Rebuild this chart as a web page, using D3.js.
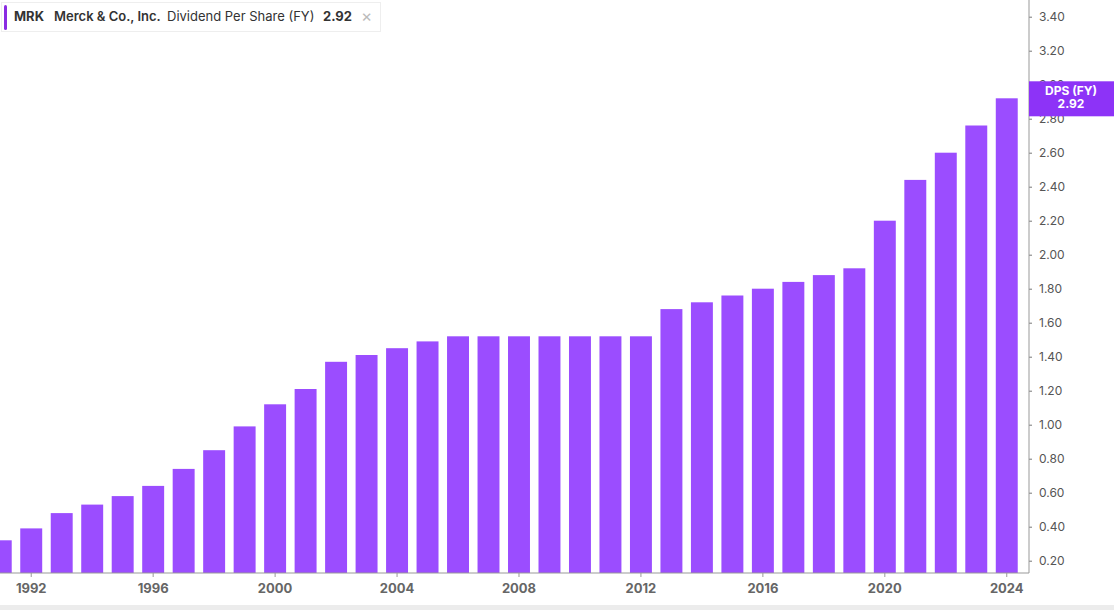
<!DOCTYPE html>
<html>
<head>
<meta charset="utf-8">
<script src="https://cdn.jsdelivr.net/npm/d3@7"></script>
<style>
  body { margin: 0; background: #fff; font-family: Inter, "Open Sans", sans-serif; }
  svg { display: block; }
</style>
</head>
<body>
<script>
// Merck dividend per share chart

const years = [1991, 1992, 1993, 1994, 1995, 1996, 1997, 1998, 1999, 2000,
               2001, 2002, 2003, 2004, 2005, 2006, 2007, 2008, 2009, 2010,
               2011, 2012, 2013, 2014, 2015, 2016, 2017, 2018, 2019, 2020,
               2021, 2022, 2023, 2024];
const dps = [0.32, 0.39, 0.48, 0.53, 0.58, 0.64, 0.74, 0.85, 0.99, 1.12,
             1.21, 1.37, 1.41, 1.45, 1.49, 1.52, 1.52, 1.52, 1.52, 1.52,
             1.52, 1.52, 1.68, 1.72, 1.76, 1.80, 1.84, 1.88, 1.92, 2.20,
             2.44, 2.60, 2.76, 2.92];
const yTicks = [0.2, 0.4, 0.6, 0.8, 1.0, 1.2, 1.4, 1.6, 1.8, 2.0, 2.2, 2.4,
                2.6, 2.8, 3.0, 3.2, 3.4];
const xLabelYears = [1992, 1996, 2000, 2004, 2008, 2012, 2016, 2020, 2024];

const outerWidth = 1114;
const outerHeight = 610;
const axisX = 1029;
const axisY = 573;
const barColor = "#9b4dff";
const tagColor = "#8d33f7";

const svg = d3.select("body").append("svg")
    .attr("width", outerWidth)
    .attr("height", outerHeight);

// footer strip
svg.append("rect")
    .attr("x", 0).attr("y", 605)
    .attr("width", outerWidth).attr("height", 5)
    .attr("fill", "#ececec");

const x = d3.scaleBand()
    .domain(years)
    .range([-14.5, 1022])
    .paddingInner(0.28)
    .paddingOuter(0.14);

const y = d3.scaleLinear()
    .domain([0, 3.4])
    .range([594.7, 16.7]);

const plot = svg.append("g");
plot.append("clipPath").attr("id", "plot-clip")
    .append("rect")
    .attr("x", 0).attr("y", 0)
    .attr("width", axisX).attr("height", axisY);

plot.append("g")
    .attr("clip-path", "url(#plot-clip)")
    .selectAll(".bar")
    .data(years)
    .join("rect")
    .attr("class", "bar")
    .attr("x", d => x(d))
    .attr("width", x.bandwidth())
    .attr("y", (d, i) => y(dps[i]))
    .attr("height", (d, i) => axisY - y(dps[i]))
    .attr("fill", barColor);

// right axis
const yAxis = d3.axisRight(y)
    .tickValues(yTicks)
    .tickSize(3)
    .tickPadding(7)
    .tickFormat(d3.format(".2f"));

const yAxisG = svg.append("g")
    .attr("transform", "translate(" + axisX + ",0)")
    .call(yAxis);
yAxisG.select(".domain").remove();
yAxisG.selectAll("line").attr("stroke", "#777");
yAxisG.selectAll("text")
    .attr("fill", "#555")
    .style("font-size", "12px")
    .style("font-family", "Inter, sans-serif");

svg.append("line")
    .attr("x1", axisX).attr("x2", axisX)
    .attr("y1", 0).attr("y2", axisY)
    .attr("stroke", "#999");

// bottom axis
const xAxis = d3.axisBottom(x)
    .tickValues(xLabelYears)
    .tickSize(4)
    .tickPadding(7);

const xAxisG = svg.append("g")
    .attr("transform", "translate(0," + axisY + ")")
    .call(xAxis);
xAxisG.select(".domain").remove();
xAxisG.selectAll("line").attr("stroke", "#999");
xAxisG.selectAll("text")
    .attr("fill", "#666")
    .style("font-size", "13px")
    .style("font-weight", "700")
    .style("font-family", "Inter, sans-serif");

svg.append("line")
    .attr("x1", 0).attr("x2", axisX)
    .attr("y1", axisY).attr("y2", axisY)
    .attr("stroke", "#999");

// last value tag
const last = dps[dps.length - 1];
const tag = svg.append("g");
tag.append("rect")
    .attr("x", axisX).attr("y", y(last) - 17)
    .attr("width", outerWidth - axisX).attr("height", 35)
    .attr("fill", tagColor);
tag.append("text")
    .attr("x", 1071).attr("y", y(last) - 3)
    .attr("text-anchor", "middle")
    .attr("fill", "#fff")
    .style("font-size", "12px").style("font-weight", "700")
    .text("DPS (FY)");
tag.append("text")
    .attr("x", 1071).attr("y", y(last) + 10)
    .attr("text-anchor", "middle")
    .attr("fill", "#fff")
    .style("font-size", "12px").style("font-weight", "700")
    .text(last.toFixed(2));

// legend box
const legend = svg.append("g");
legend.append("rect")
    .attr("x", 1.5).attr("y", 2.5)
    .attr("width", 379).attr("height", 29)
    .attr("fill", "#fff")
    .attr("stroke", "#eee");
legend.append("rect")
    .attr("x", 4).attr("y", 5)
    .attr("width", 3).attr("height", 25)
    .attr("rx", 1.5)
    .attr("fill", "#8a2be2");

const legendItems = [
  {text: "MRK", x: 14, weight: 700, color: "#333"},
  {text: "Merck & Co., Inc.", x: 54, weight: 600, color: "#333"},
  {text: "Dividend Per Share (FY)", x: 167, weight: 400, color: "#333"},
  {text: "2.92", x: 323, weight: 700, color: "#333"}
];
legend.selectAll(".leg-text")
    .data(legendItems)
    .join("text")
    .attr("class", "leg-text")
    .attr("x", d => d.x).attr("y", 21)
    .attr("fill", d => d.color)
    .style("font-size", "13px")
    .style("font-weight", d => d.weight)
    .text(d => d.text);
legend.append("text")
    .attr("x", 361).attr("y", 22)
    .attr("fill", "#bbb")
    .style("font-size", "17px")
    .text("×");
</script>
</body>
</html>
